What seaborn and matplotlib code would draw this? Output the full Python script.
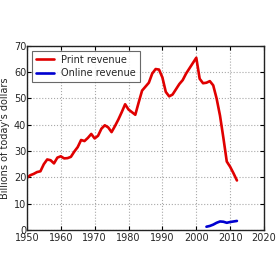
import numpy as np
import pandas as pd
import matplotlib
matplotlib.use("Agg")
import matplotlib.pyplot as plt
import seaborn as sns

# print ad revenue, billions of today's dollars
print_years = list(range(1950, 2013))
print_revenue = [19.8, 20.8, 21.3, 22.0, 22.3, 25.0, 26.8, 26.5, 25.3, 27.5,
                 28.0, 27.2, 27.3, 27.8, 29.8, 31.5, 34.2, 33.8, 35.0, 36.5,
                 34.8, 35.8, 38.5, 39.8, 39.0, 37.2, 39.5, 42.0, 44.8, 47.8,
                 45.8, 44.8, 43.8, 48.5, 53.0, 54.5, 56.0, 59.5, 61.2, 61.0,
                 58.0, 52.5, 50.8, 51.5, 53.5, 55.5, 57.0, 59.5, 61.5, 63.5,
                 65.5, 57.5, 55.8, 56.0, 56.6, 55.0, 50.0, 43.5, 35.0, 26.0,
                 24.0, 21.5, 18.8]

online_years = list(range(2003, 2013))
online_revenue = [1.2, 1.5, 2.0, 2.7, 3.2, 3.1, 2.7, 3.0, 3.2, 3.4]

x_ticks = [1950, 1960, 1970, 1980, 1990, 2000, 2010, 2020]
y_ticks = [0, 10, 20, 30, 40, 50, 60, 70]

df_print = pd.DataFrame({"year": print_years, "revenue": print_revenue})
df_online = pd.DataFrame({"year": online_years, "revenue": online_revenue})

sns.set_style("ticks")
plt.rcParams["font.family"] = ["DejaVu Sans"]

fig = plt.figure(figsize=(2.8, 2.8), dpi=100)
ax = fig.add_axes([0.096, 0.179, 0.847, 0.657])

sns.lineplot(data=df_print, x="year", y="revenue", color="#e00000", lw=1.9,
             label="Print revenue", ax=ax)
sns.lineplot(data=df_online, x="year", y="revenue", color="#0000d0", lw=1.9,
             label="Online revenue", ax=ax)

ax.set_xlim(1950, 2020)
ax.set_ylim(0, 70)
ax.set_xticks(x_ticks)
ax.set_yticks(y_ticks)
ax.tick_params(labelsize=7, direction="in", length=3, color="black",
               top=True, right=True)
ax.tick_params(axis="x", pad=2)
ax.tick_params(axis="y", pad=0.5)
ax.grid(True, linestyle=":", color="#a8a8a8", lw=0.8)
for s in ax.spines.values():
    s.set_visible(True)
    s.set_color("#222222")
    s.set_linewidth(1.0)
ax.set_xlabel("")
ax.set_ylabel("Billions of today's dollars", fontsize=7, labelpad=3)

leg = ax.legend(loc="upper left", fontsize=7, frameon=True, fancybox=False,
                handlelength=1.9, handletextpad=0.7, borderpad=0.4,
                labelspacing=0.35)
leg.get_frame().set_edgecolor("#444444")
leg.get_frame().set_linewidth(0.8)

fig.savefig("out.png", dpi=100, facecolor="white")
